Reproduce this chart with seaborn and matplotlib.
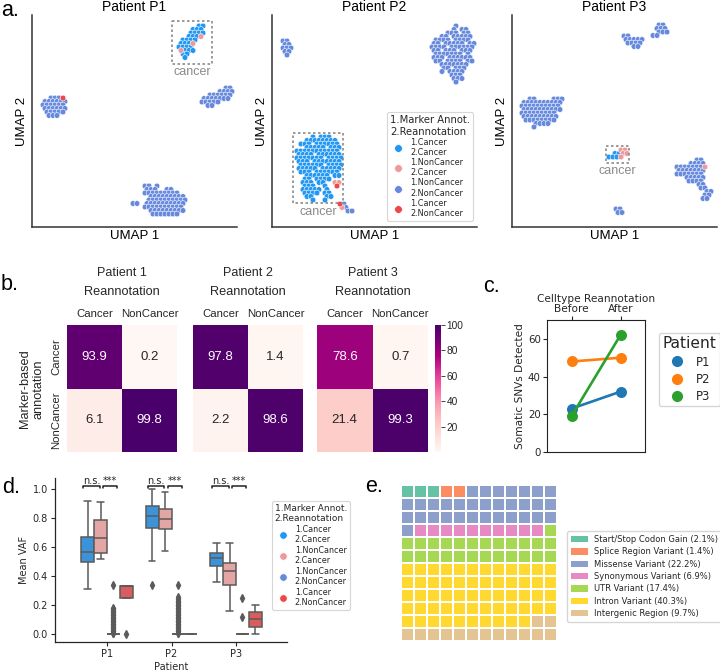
import numpy as np
import pandas as pd
import matplotlib
matplotlib.use("Agg")
import matplotlib.pyplot as plt
import seaborn as sns
from matplotlib.lines import Line2D
from matplotlib.patches import Patch, Rectangle
from matplotlib.colors import ListedColormap

sns.set_theme(style="ticks")
plt.rcParams["font.family"] = ["DejaVu Sans"]
ARIAL = ["Liberation Sans", "DejaVu Sans"]

W, H = 720, 671
fig = plt.figure(figsize=(W / 100, H / 100), dpi=100)


def rect(x0, y0, x1, y1):
    return [x0 / W, 1 - y1 / H, (x1 - x0) / W, (y1 - y0) / H]


def ftext(x, y, s, **kw):
    kw.setdefault("ha", "center")
    kw.setdefault("va", "center")
    fig.text(x / W, 1 - y / H, s, **kw)


# ------------------------------------------------------------------ data
ann_codes = ["b", "p", "n", "r"]
ann_labels = ["1.Cancer\n2.Cancer", "1.NonCancer\n2.Cancer",
              "1.NonCancer\n2.NonCancer", "1.Cancer\n2.NonCancer"]
ann_colors = ["#2196F3", "#EF9A9A", "#6689DD", "#EF4747"]

# UMAP point maps: (origin x, origin y, rows); each char one cell
umap_p1 = [
    (43, 98, ["  nnnr", "nnnnnn", "nnnnnn", "nnnnnn", " nnnnn", " nnn"]),
    (202, 88, ["      nn", "    nnnn", "  nnnnnn", "nnnnnnn", "nnnnn", " nn"]),
    (145, 186, ["nn n", "nnn  nn", "nnnnnnnnn", " nnnnnnnnn", " nnnnnnnnnn",
                "nnnnnnnnnn", "nnnnnnnnnn", " nnnnnnnnn", "  nnnnnnn"]),
    (133, 203.5, ["nn"]),
    (179, 26, ["     bb", "   bbb", "   bbbb", "  bbbp", " bbbb", "bbbp",
               "bbbb", "pbbb", " bb", " b"]),
]
umap_p2 = [
    (283, 41, ["nn", "nn", "nnn", "nn", " n"]),
    (432, 26, ["      n", "     n nn", "    nnn nn", "  nn nnnnn", " nnnn nnnn",
               "nn nnnnn nn", "nnnn nnnnnn", "nn nnn nnn", " nnnnnnn n",
               "nnn nnnnnn", " nn nnnn nn", "  nnnnnnn", "   nn nnn",
               "  n nnnn", "     nnn", "     nnn", "      n"]),
    (297, 137, ["    b bbb", "  bbbbbbbb", " bbb bbbbbb", "  bbbbb bbb",
                "bbbbbbbbbbb", "bbbb bbbbbb", "bbbbbbb bbbb", "bbb bbbbbbb",
                " bbbbbb bbbb", "bbbbb bbbbb", " bbb bbbbbb", "  bbbbbb bb",
                "  bb bbbb", " bbb bb  pp", "  bbb  b  r", " bbbbb b",
                "  bbbb bb", "  bb   bb", "    b  b"]),
    (340, 204, ["rn", "pn", "  nn"]),
]
umap_p3 = [
    (522, 99, ["  nn    nnn", "nnnnnnnnnn", "nnnnnnnnnn", "nnnnnnnnnn", "nnnnnnnnn",
               "nnnnnnnnn", " nnnnnnnn", "   nnnn", "   n"]),
    (624, 36, ["nn", "nnnnn", " nnnn", "  nn"]),
    (651, 25, ["  nn", " nnn", "  nnn", "nn"]),
    (609, 150, ["   pp", " bbpp", "bbbp"]),
    (677, 160, ["     nn", "   nnnn", "nnnnnnnp", "nnnnnnn", "nnnnnnn", "  nnnnn",
                "   nnnn", "     nn", "      nn", "       nn", "       nn", "      nn"]),
    (616, 209, ["nn", "nn"]),
]

# panel b
pat_titles = ["Patient 1", "Patient 2", "Patient 3"]
reann_cats = ["Cancer", "NonCancer"]
heat_p1 = [[93.9, 0.2], [6.1, 99.8]]
heat_p2 = [[97.8, 1.4], [2.2, 98.6]]
heat_p3 = [[78.6, 0.7], [21.4, 99.3]]

# panel c
patients = ["P1", "P2", "P3"]
stages = ["Before", "After"]
snv_p1 = [23, 32]
snv_p2 = [48, 50]
snv_p3 = [19, 62]

# panel d: (low whisker, q1, median, q3, high whisker, outliers) per patient
vaf_c_c = [(0.312, 0.495, 0.569, 0.667, 0.917, []),
           (0.502, 0.729, 0.814, 0.883, 1.0, [0.335]),
           (0.358, 0.470, 0.523, 0.557, 0.631, [])]
vaf_nc_c = [(0.518, 0.557, 0.661, 0.787, 0.908, []),
            (0.573, 0.722, 0.794, 0.860, 0.982, []),
            (0.156, 0.339, 0.438, 0.489, 0.631, [])]
vaf_nc_nc = [(0.0, 0.0, 0.0, 0.0, 0.0,
              [0.005, 0.01, 0.02, 0.03, 0.04, 0.05, 0.06, 0.07, 0.08, 0.09, 0.10,
               0.11, 0.12, 0.13, 0.14, 0.15, 0.16, 0.17, 0.18, 0.335]),
             (0.0, 0.0, 0.0, 0.0, 0.0,
              [0.005, 0.01, 0.02, 0.03, 0.04, 0.05, 0.06, 0.07, 0.08, 0.09, 0.10,
               0.11, 0.12, 0.13, 0.14, 0.15, 0.16, 0.17, 0.18, 0.19, 0.20, 0.21,
               0.22, 0.23, 0.24, 0.255, 0.335]),
             (0.0, 0.0, 0.0, 0.0, 0.0, [0.115, 0.248])]
vaf_c_nc = [(0.246, 0.246, 0.333, 0.333, 0.333, [0.0]),
            (0.0, 0.0, 0.0, 0.0, 0.0, []),
            (0.0, 0.048, 0.105, 0.151, 0.202, [])]

# panel e
var_names = ["Start/Stop Codon Gain", "Splice Region Variant", "Missense Variant",
             "Synonymous Variant", "UTR Variant", "Intron Variant", "Intergenic Region"]
var_counts = [3, 2, 32, 10, 25, 58, 14]

# ------------------------------------------------------------------ panel a
def expand(clusters):
    rows_out = []
    for x0, y0, rows in clusters:
        for r, line in enumerate(rows):
            for c, ch in enumerate(line):
                if ch in ann_codes:
                    rows_out.append((x0 + 4 * c + 2 * (r % 2), y0 + 3.5 * r, ch))
    df = pd.DataFrame(rows_out, columns=["x", "y", "code"])
    order = {"n": 0, "b": 1, "p": 2, "r": 3}
    return df.sort_values("code", key=lambda s: s.map(order), kind="stable")


def ann_legend(ax, x_px, y_px, title_fs, label_fs, ms, spacing):
    handles = [Line2D([0], [0], marker="o", ls="", markerfacecolor=c,
                      markeredgecolor="white", markeredgewidth=0.4, markersize=ms)
               for c in ann_colors]
    leg = ax.legend(handles, ann_labels, title="1.Marker Annot.\n2.Reannotation",
                    loc="upper left", bbox_to_anchor=(x_px / W, 1 - y_px / H),
                    bbox_transform=fig.transFigure, fontsize=label_fs,
                    title_fontsize=title_fs, frameon=True, handletextpad=0.5,
                    labelspacing=spacing, borderpad=0.35, handlelength=2.0,
                    alignment="left", fancybox=True)
    leg.get_frame().set_edgecolor("#cccccc")
    leg.get_frame().set_linewidth(0.8)
    return leg


umap_panels = [(umap_p1, 32, 237, "Patient P1", (172, 21, 212, 64), (192, 72)),
               (umap_p2, 272, 477, "Patient P2", (293, 133, 343, 203), (318, 212)),
               (umap_p3, 512, 717, "Patient P3", (606, 146, 629, 163), (617, 171))]
for k, (clusters, x0, x1, title, box, lab) in enumerate(umap_panels):
    ax = fig.add_axes(rect(x0, 15, x1, 227))
    df = expand(clusters)
    sns.scatterplot(data=df, x="x", y="y", hue="code", hue_order=ann_codes,
                    palette=dict(zip(ann_codes, ann_colors)), s=17,
                    edgecolor="white", linewidth=0.4, legend=False, ax=ax)
    ax.set_xlim(x0, x1)
    ax.set_ylim(227, 15)
    ax.set_xticks([])
    ax.set_yticks([])
    for sp in ["top", "right"]:
        ax.spines[sp].set_visible(False)
    for sp in ["left", "bottom"]:
        ax.spines[sp].set_color("#333333")
        ax.spines[sp].set_linewidth(1.1)
    ax.set_xlabel("UMAP 1", fontsize=9.5, family=ARIAL, labelpad=2, color="black")
    ax.set_ylabel("UMAP 2", fontsize=9.5, family=ARIAL, labelpad=3, color="black")
    ax.set_title(title, fontsize=10, family=ARIAL, pad=3, color="black")
    bx0, by0, bx1, by1 = box
    ax.add_patch(Rectangle((bx0, by0), bx1 - bx0, by1 - by0, fill=False,
                           edgecolor="#8a8a8a", lw=1.2, linestyle=(0, (1.5, 1.5))))
    ax.text(lab[0], lab[1], "cancer", ha="center", va="center", color="#8a8a8a",
            fontsize=9, family=ARIAL)
    if k == 1:
        ann_legend(ax, 383, 108, 7.2, 5.9, 5.5, 0.12)

# ------------------------------------------------------------------ panel b
cax = fig.add_axes(rect(435, 325, 441, 452))
heat_x = [(67, 177), (193, 303), (317, 428)]
for i, vals in enumerate([heat_p1, heat_p2, heat_p3]):
    x0, x1 = heat_x[i]
    ax = fig.add_axes(rect(x0, 325, x1, 452))
    dfh = pd.DataFrame(vals, index=reann_cats, columns=reann_cats)
    sns.heatmap(dfh, ax=ax, cmap="RdPu", vmin=0, vmax=100, annot=True, fmt=".1f",
                annot_kws=dict(fontsize=9.5, family=ARIAL),
                cbar=(i == 2), cbar_ax=cax if i == 2 else None)
    ax.xaxis.tick_top()
    ax.set_xticklabels(reann_cats, fontsize=8.2, family=ARIAL, rotation=0)
    ax.tick_params(length=0, pad=4)
    ax.set_xlabel("")
    ax.set_ylabel("")
    if i == 0:
        ax.set_yticklabels(reann_cats, fontsize=8.2, family=ARIAL, rotation=90, va="center")
    else:
        ax.set_yticks([])
    cx = (x0 + x1) / 2
    ftext(cx, 273, pat_titles[i], fontsize=9, family=ARIAL)
    ftext(cx, 292, "Reannotation", fontsize=9.2, family=ARIAL)
ftext(32, 389, "Marker-based\nannotation", fontsize=9.2, family=ARIAL, rotation=90)
cax.set_yticks([20, 40, 60, 80, 100])
cax.tick_params(labelsize=7.3, length=3, width=0.6, pad=1)
for t in cax.get_yticklabels():
    t.set_family(ARIAL)

# ------------------------------------------------------------------ panel c
dfc = pd.DataFrame({"Patient": np.repeat(patients, 2),
                    "Stage": stages * 3,
                    "SNVs": snv_p1 + snv_p2 + snv_p3})
pal_c = sns.color_palette("tab10", 3)
axc = fig.add_axes(rect(547, 320, 645, 452))
sns.pointplot(data=dfc, x="Stage", y="SNVs", hue="Patient", order=stages,
              palette=pal_c, markers="o", markersize=6.5, linewidth=1.9,
              errorbar=None, legend=False, ax=axc)
axc.set_xlim(-0.5, 1.5)
axc.set_ylim(0, 70)
axc.set_yticks([0, 20, 40, 60])
axc.xaxis.tick_top()
axc.xaxis.set_label_position("top")
axc.set_xlabel("Celltype Reannotation", fontsize=7.6, labelpad=1.5)
axc.set_ylabel("Somatic SNVs Detected", fontsize=7.6, labelpad=2)
axc.tick_params(axis="x", top=True, bottom=False, labeltop=True, labelbottom=False,
                labelsize=7.6, length=3, width=0.8, pad=1.5)
axc.tick_params(axis="y", labelsize=7.4, length=3, width=0.8, pad=1.5)
for sp in axc.spines.values():
    sp.set_visible(True)
    sp.set_color("#222222")
    sp.set_linewidth(0.8)
hc = [Line2D([0], [0], marker="o", ls="", color=c, markersize=7) for c in pal_c]
legc = axc.legend(hc, patients, title="Patient", loc="upper left",
                  bbox_to_anchor=(653 / W, 1 - 327 / H), bbox_transform=fig.transFigure,
                  fontsize=8.5, title_fontsize=11.2, frameon=True, handletextpad=0.8,
                  labelspacing=0.35, borderpad=0.3, handlelength=1.6)
legc.get_frame().set_edgecolor("#cccccc")

# ------------------------------------------------------------------ panel d
def box_values(lo, q1, med, q3, hi, outliers):
    lower = sorted(o for o in outliers if o < q1)
    upper = sorted(o for o in outliers if o > q3)
    m = max(len(lower), len(upper)) + 2
    return (lower + [lo] * (m - len(lower)) + [q1] + [med] * (2 * m - 1)
            + [q3] + [hi] * (m - len(upper)) + upper)


recs = []
for g, group in enumerate([vaf_c_c, vaf_nc_c, vaf_nc_nc, vaf_c_nc]):
    for p, st in enumerate(group):
        for v in box_values(*st):
            recs.append((patients[p], ann_labels[g], v))
dfd = pd.DataFrame(recs, columns=["Patient", "Group", "VAF"])
axd = fig.add_axes(rect(55, 478, 287, 642))
sns.boxplot(data=dfd, x="Patient", y="VAF", hue="Group", order=patients,
            hue_order=ann_labels, palette=ann_colors, saturation=0.75, width=0.8,
            linewidth=1.1, linecolor="#5a5a5a", fliersize=4.2,
            flierprops=dict(marker="d", markerfacecolor="#5a5a5a",
                            markeredgecolor="#5a5a5a"),
            legend=False, ax=axd)
axd.set_xlim(-0.806, 2.79)
axd.set_ylim(-0.055, 1.076)
axd.set_yticks([0.0, 0.2, 0.4, 0.6, 0.8, 1.0])
axd.set_xlabel("Patient", fontsize=7, labelpad=2)
axd.set_ylabel("Mean VAF", fontsize=7, labelpad=3)
axd.tick_params(labelsize=7, length=3, width=0.8, pad=2)
sns.despine(ax=axd)
for sp in ["left", "bottom"]:
    axd.spines[sp].set_linewidth(0.9)
for i in range(3):
    for xa, xb, lab in [(-0.37, -0.11, "n.s."), (-0.06, 0.155, "***")]:
        axd.plot([i + xa, i + xa, i + xb, i + xb], [1.005, 1.021, 1.021, 1.005],
                 color="#222222", lw=1.1, clip_on=False)
        axd.text(i + (xa + xb) / 2, 1.022, lab, ha="center", va="bottom",
                 fontsize=7, clip_on=False)
ann_legend(axd, 268, 497, 6.5, 5.75, 5.3, 0.2)

# ------------------------------------------------------------------ panel e
total = sum(var_counts)
grid = np.repeat(np.arange(len(var_counts)), var_counts).reshape(12, 12)
set2 = sns.color_palette("Set2", len(var_counts))
axe = fig.add_axes(rect(401, 485, 557, 641))
sns.heatmap(grid, cmap=ListedColormap(set2), vmin=-0.5, vmax=len(var_counts) - 0.5,
            cbar=False, linewidths=1.4, linecolor="white", xticklabels=False,
            yticklabels=False, ax=axe)
he = [Patch(facecolor=c, edgecolor="none") for c in set2]
labs_e = [f"{n} ({100 * c / total:.1f}%)" for n, c in zip(var_names, var_counts)]
lege = axe.legend(he, labs_e, loc="upper left", bbox_to_anchor=(563 / W, 1 - 527 / H),
                  bbox_transform=fig.transFigure, fontsize=6.0, frameon=True,
                  handlelength=2.0, handleheight=0.8, labelspacing=0.4,
                  handletextpad=0.8, borderpad=0.45)
lege.get_frame().set_edgecolor("#cccccc")

# ------------------------------------------------------------------ panel labels
for s, x, y in [("a.", 1, 16), ("b.", 1, 290), ("c.", 483, 292), ("d.", 2, 493), ("e.", 365, 492)]:
    fig.text(x / W, 1 - y / H, s, fontsize=15.5, family=ARIAL, ha="left", va="baseline",
             color="black")

fig.savefig("out.png", dpi=100)
